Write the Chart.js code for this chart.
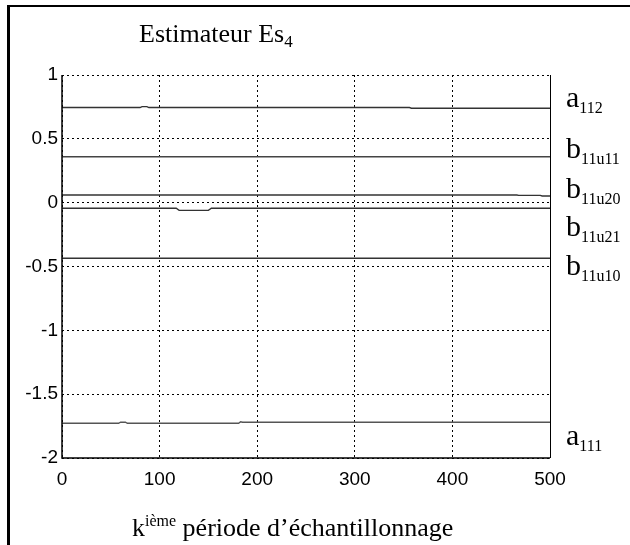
<!DOCTYPE html>
<html lang="fr">
<head>
    <meta charset="UTF-8">
    <title>Estimateur Es4</title>
    <script src="https://cdn.jsdelivr.net/npm/chart.js"></script>
    <style>
        body { margin: 0; background: #fff; }
        #wrap { position: relative; width: 630px; height: 545px; overflow: hidden; }
        #myChart { position: absolute; left: 0; top: 0; }
        #frame { position: absolute; left: 7px; top: 5px; width: 700px; height: 600px;
                 border-left: 3px solid #000; border-top: 2px solid #000; }
        .lbl { position: absolute; font-family: "Liberation Serif", "Times New Roman", serif;
               line-height: 1; white-space: nowrap; color: #000; }
        .lbl span { position: relative; }
        .serie { font-size: 30px; left: 566px; }
        .serie span { font-size: 16px; top: 6px; }
    </style>
</head>
<body>
    <div id="wrap">
        <div id="frame"></div>
        <canvas id="myChart" width="630" height="545"></canvas>
        <div class="lbl" style="font-size:26px; left:139px; top:21px;">Estimateur Es<span style="font-size:17px; top:5px;">4</span></div>
        <div class="lbl" style="font-size:26px; left:132px; top:515px;">k<span style="font-size:16px; top:-10px;">ième</span> période d’échantillonnage</div>
        <div class="lbl serie" style="top:82px;">a<span>112</span></div>
        <div class="lbl serie" style="top:133px;">b<span>11u11</span></div>
        <div class="lbl serie" style="top:173px;">b<span>11u20</span></div>
        <div class="lbl serie" style="top:211px;">b<span>11u21</span></div>
        <div class="lbl serie" style="top:250px;">b<span>11u10</span></div>
        <div class="lbl serie" style="top:420px;">a<span>111</span></div>
    </div>

    <script>
        // k (période) et valeurs, une paire de listes par paramètre
        const kA112 = [0, 80, 82, 87, 89, 356, 358, 500];
        const vA112 = [0.745, 0.745, 0.752, 0.752, 0.745, 0.745, 0.74, 0.74];

        const kB11u11 = [0, 500];
        const vB11u11 = [0.36, 0.36];

        const kB11u20 = [0, 466, 468, 490, 492, 500];
        const vB11u20 = [0.06, 0.06, 0.057, 0.057, 0.052, 0.052];

        const kB11u21 = [0, 117, 120, 150, 153, 500];
        const vB11u21 = [-0.044, -0.044, -0.06, -0.06, -0.044, -0.044];

        const kB11u10 = [0, 500];
        const vB11u10 = [-0.435, -0.435];

        const kA111 = [0, 58, 60, 65, 67, 181, 183, 185, 500];
        const vA111 = [-1.728, -1.728, -1.72, -1.72, -1.728, -1.728, -1.716, -1.72, -1.72];

        const xTicks = [0, 100, 200, 300, 400, 500];
        const yTicks = [1, 0.5, 0, -0.5, -1, -1.5, -2];

        function serie(ks, vs, color) {
            return {
                data: ks.map((k, i) => ({ x: k, y: vs[i] })),
                borderColor: color,
                borderWidth: 1.4,
                pointRadius: 0,
                tension: 0,
                fill: false
            };
        }

        // cadre : axes gauche / bas / droite en trait plein
        const cadre = {
            id: 'cadre',
            afterDraw(chart) {
                const { ctx, chartArea: a } = chart;
                ctx.save();
                ctx.strokeStyle = '#000';
                ctx.lineWidth = 1.5;
                ctx.beginPath();
                ctx.moveTo(a.left, a.top);
                ctx.lineTo(a.left, a.bottom);
                ctx.lineTo(a.right, a.bottom);
                ctx.stroke();
                ctx.lineWidth = 1;
                ctx.beginPath();
                ctx.moveTo(Math.round(a.right) + 0.5, a.top);
                ctx.lineTo(Math.round(a.right) + 0.5, a.bottom);
                ctx.stroke();
                ctx.restore();
            }
        };

        const tickFont = { family: '"Liberation Sans", Arial, sans-serif', size: 19 };
        const fmt = (v) => String(v);

        new Chart(document.getElementById('myChart').getContext('2d'), {
            type: 'line',
            data: {
                datasets: [
                    serie(kA112, vA112, '#333'),
                    serie(kB11u11, vB11u11, '#444'),
                    serie(kB11u20, vB11u20, '#333'),
                    serie(kB11u21, vB11u21, '#333'),
                    serie(kB11u10, vB11u10, '#333'),
                    serie(kA111, vA111, '#555')
                ]
            },
            options: {
                responsive: false,
                animation: false,
                layout: { padding: { top: 75, right: 80, left: 0, bottom: 0 } },
                plugins: { legend: { display: false }, tooltip: { enabled: false } },
                scales: {
                    x: {
                        type: 'linear',
                        min: 0,
                        max: 500,
                        afterBuildTicks: (s) => { s.ticks = xTicks.map(v => ({ value: v })); },
                        afterFit: (s) => { s.height = 87; },
                        ticks: { color: '#000', font: tickFont, padding: 10, maxRotation: 0, autoSkip: false, callback: fmt },
                        grid: { color: '#000', lineWidth: 1, drawTicks: false },
                        border: { display: false, dash: [2, 3] }
                    },
                    y: {
                        min: -2,
                        max: 1,
                        afterBuildTicks: (s) => { s.ticks = yTicks.map(v => ({ value: v })); },
                        afterFit: (s) => { s.width = 62; },
                        ticks: { color: '#000', font: tickFont, padding: 4, autoSkip: false, callback: fmt },
                        grid: { color: '#000', lineWidth: 1, drawTicks: false },
                        border: { display: false, dash: [2, 3] }
                    }
                }
            },
            plugins: [cadre]
        });
    </script>
</body>
</html>
